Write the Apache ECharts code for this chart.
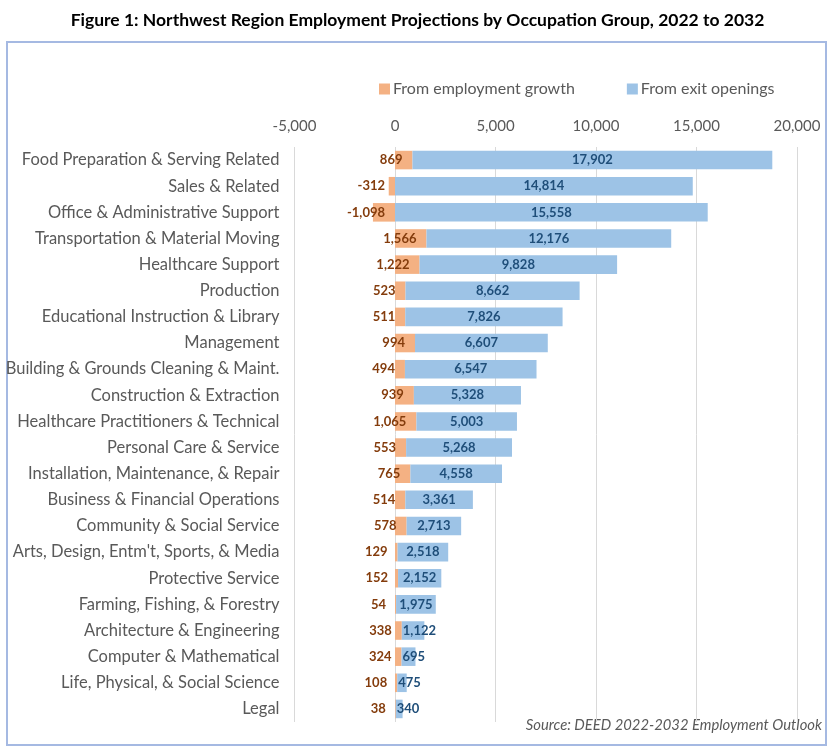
<!DOCTYPE html>
<html>
<head>
<meta charset="utf-8">
<script src="https://cdn.jsdelivr.net/npm/echarts@6/dist/echarts.min.js"></script>
<style>
html,body{margin:0;padding:0;background:#fff;}
#chart{width:835px;height:751px;}
</style>
</head>
<body>
<div id="chart"></div>
<script>
const categories = [
  "Food Preparation & Serving Related",
  "Sales & Related",
  "Office & Administrative Support",
  "Transportation & Material Moving",
  "Healthcare Support",
  "Production",
  "Educational Instruction & Library",
  "Management",
  "Building & Grounds Cleaning & Maint.",
  "Construction & Extraction",
  "Healthcare Practitioners & Technical",
  "Personal Care & Service",
  "Installation, Maintenance, & Repair",
  "Business & Financial Operations",
  "Community & Social Service",
  "Arts, Design, Entm't, Sports, & Media",
  "Protective Service",
  "Farming, Fishing, & Forestry",
  "Architecture & Engineering",
  "Computer & Mathematical",
  "Life, Physical, & Social Science",
  "Legal"
];
const employmentGrowth = [869, -312, -1098, 1566, 1222, 523, 511, 994, 494, 939, 1065, 553, 765, 514, 578, 129, 152, 54, 338, 324, 108, 38];
const exitOpenings = [17902, 14814, 15558, 12176, 9828, 8662, 7826, 6607, 6547, 5328, 5003, 5268, 4558, 3361, 2713, 2518, 2152, 1975, 1122, 695, 475, 340];
const seriesNames = ["From employment growth", "From exit openings"];
const axisMin = -5000, axisMax = 20000, axisStep = 5000;

const fmt = v => Number(v).toLocaleString('en-US');
const FONT = 'Lato';

const chart = echarts.init(document.getElementById('chart'), null, {renderer: 'canvas'});

// negative growth bars: label right-aligned just left of the zero line
const growthData = employmentGrowth.map(v => (
  v < 0
    ? {value: v, label: {position: ['100%', '50%'], align: 'right', verticalAlign: 'middle', offset: [-10, 0]}}
    : v
));
// narrow exit bars: label starts at the bar's base
const exitData = exitOpenings.map(v => (
  v < 1500
    ? {value: v, label: {position: 'insideLeft', distance: 1}}
    : v
));

chart.setOption({
  backgroundColor: '#ffffff',
  animation: false,
  textStyle: {fontFamily: FONT},
  title: {
    text: 'Figure 1: Northwest Region Employment Projections by Occupation Group, 2022 to 2032',
    left: 'center',
    top: 6,
    textStyle: {fontFamily: FONT, fontWeight: 'bold', fontSize: 17.5, color: '#000000'}
  },
  graphic: [
    {
      type: 'rect',
      shape: {x: 7, y: 42, width: 819, height: 703},
      style: {fill: 'none', stroke: '#A5B9E2', lineWidth: 2},
      silent: true,
      z: -1
    },
    {
      type: 'text',
      right: 13,
      top: 718,
      style: {
        text: 'Source: DEED 2022-2032 Employment Outlook',
        font: 'italic 14.8px ' + FONT,
        fill: '#595959'
      }
    }
  ],
  legend: {
    data: seriesNames,
    left: 374,
    top: 76,
    itemWidth: 11,
    itemHeight: 11,
    itemGap: 52,
    icon: 'rect',
    textStyle: {fontFamily: FONT, fontSize: 16, color: '#595959', padding: [0, 0, 0, -2]}
  },
  grid: {left: 294.5, right: 38, top: 147, bottom: 29, containLabel: false},
  xAxis: {
    type: 'value',
    position: 'top',
    min: axisMin,
    max: axisMax,
    interval: axisStep,
    axisLine: {show: false},
    axisTick: {show: false},
    axisLabel: {
      fontFamily: FONT, fontSize: 15, color: '#595959', margin: 13,
      formatter: v => fmt(v)
    },
    splitLine: {show: true, lineStyle: {color: '#D9D9D9', width: 1}}
  },
  yAxis: {
    type: 'category',
    data: categories,
    inverse: true,
    axisLine: {show: false},
    axisTick: {show: false},
    axisLabel: {fontFamily: FONT, fontSize: 16.5, color: '#595959', margin: 15}
  },
  series: [
    {
      name: seriesNames[0],
      type: 'bar',
      stack: 'total',
      data: growthData,
      barCategoryGap: '29%',
      itemStyle: {color: '#F4B183'},
      label: {
        show: true,
        position: 'insideRight',
        distance: 10,
        fontFamily: FONT,
        fontWeight: 'bold',
        fontSize: 13,
        color: '#843C0C',
        formatter: p => fmt(p.value)
      }
    },
    {
      name: seriesNames[1],
      type: 'bar',
      stack: 'total',
      data: exitData,
      barCategoryGap: '29%',
      itemStyle: {color: '#9DC3E6'},
      label: {
        show: true,
        position: 'inside',
        fontFamily: FONT,
        fontWeight: 'bold',
        fontSize: 13,
        color: '#1F4E79',
        formatter: p => fmt(p.value)
      }
    }
  ]
});
</script>
</body>
</html>
